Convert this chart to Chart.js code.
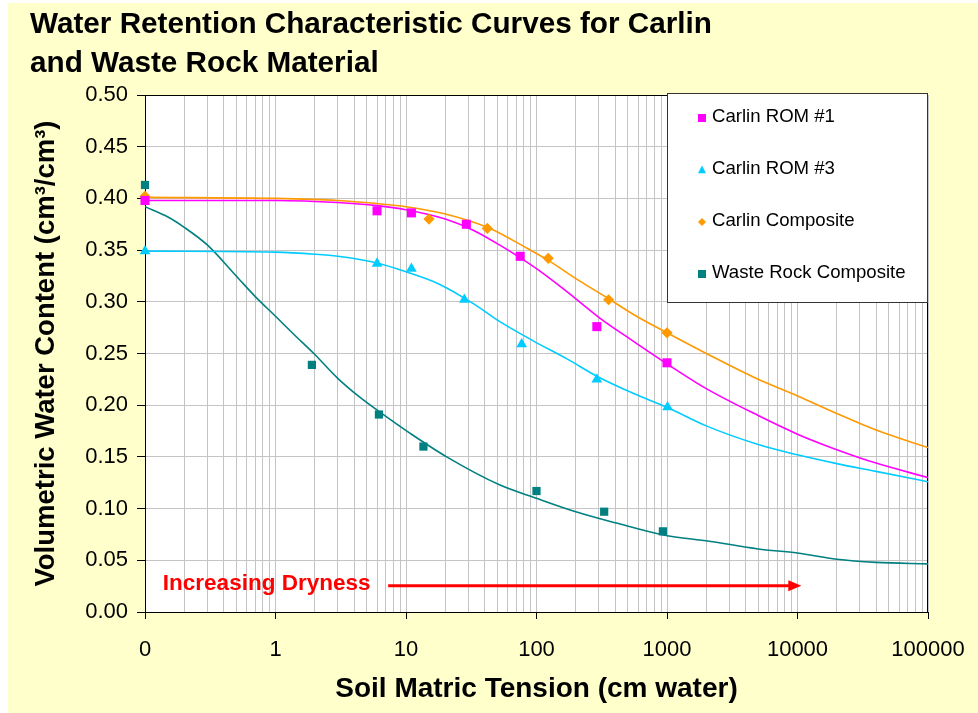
<!DOCTYPE html>
<html>
<head>
<meta charset="utf-8">
<script src="https://cdn.jsdelivr.net/npm/chart.js@4.4.1/dist/chart.umd.min.js"></script>
<style>
  html, body { margin: 0; padding: 0; background: #fff; }
  #wrap { width: 978px; height: 713px; }
</style>
</head>
<body>
<div id="wrap"><canvas id="c" width="978" height="713"></canvas></div>
<script>
/* ── measured points ─────────────────────────────────────── */
const rom1X  = [0.1, 6, 11, 29, 75, 290, 1000];
const rom1Y  = [0.398, 0.388, 0.386, 0.375, 0.344, 0.276, 0.241];
const rom3X  = [0.1, 6, 11, 28, 77, 290, 1010];
const rom3Y  = [0.349, 0.337, 0.332, 0.302, 0.259, 0.225, 0.198];
const compX  = [0.1, 15, 42, 123, 357, 1000];
const compY  = [0.402, 0.380, 0.371, 0.342, 0.302, 0.270];
const wasteX = [0.1, 1.9, 6.2, 13.6, 100, 330, 930];
const wasteY = [0.413, 0.239, 0.191, 0.160, 0.117, 0.097, 0.078];

/* ── fitted curves ───────────────────────────────────────── */
const rom1FitX  = [0.1, 1, 3, 6, 10, 20, 33, 52, 100, 170, 300, 550, 1000, 2000, 5000, 10000, 20000, 40000, 100000];
const rom1FitY  = [0.398, 0.398, 0.396, 0.393, 0.389, 0.380, 0.369, 0.355, 0.332, 0.310, 0.285, 0.262, 0.240, 0.216, 0.190, 0.172, 0.157, 0.144, 0.130];
const rom3FitX  = [0.1, 1, 2, 3, 6, 10, 18, 33, 52, 95, 170, 300, 550, 1000, 2000, 5000, 10000, 20000, 40000, 100000];
const rom3FitY  = [0.349, 0.348, 0.346, 0.344, 0.3375, 0.329, 0.317, 0.298, 0.281, 0.262, 0.245, 0.227, 0.2115, 0.198, 0.180, 0.162, 0.152, 0.1435, 0.136, 0.126];
const compFitX  = [0.1, 1, 3, 6, 10, 20, 42, 84, 123, 215, 357, 550, 1000, 2000, 5000, 10000, 20000, 40000, 100000];
const compFitY  = [0.401, 0.400, 0.398, 0.395, 0.392, 0.385, 0.372, 0.352, 0.340, 0.320, 0.303, 0.288, 0.270, 0.250, 0.225, 0.209, 0.192, 0.176, 0.159];
const wasteFitX = [0.1, 0.15, 0.2, 0.3, 0.5, 0.7, 1, 1.45, 2, 3, 4.5, 6.2, 10.7, 20.5, 52, 100, 200, 410, 940, 2100, 5000, 10000, 20000, 40000, 100000];
const wasteFitY = [0.392, 0.382, 0.372, 0.355, 0.325, 0.305, 0.286, 0.266, 0.249, 0.226, 0.207, 0.194, 0.173, 0.150, 0.123, 0.110, 0.097, 0.086, 0.0745, 0.0685, 0.061, 0.057, 0.051, 0.048, 0.0465];

/* ── axes ────────────────────────────────────────────────── */
const xTickValues = [0.1, 1, 10, 100, 1000, 10000, 100000];
const xTickLabels = ['0', '1', '10', '100', '1000', '10000', '100000'];
const seriesNames = ['Carlin ROM #1', 'Carlin ROM #3', 'Carlin Composite', 'Waste Rock Composite'];

const C = { rom1: '#FF00FF', rom3: '#00CCFF', comp: '#FF9900', waste: '#008080' };
const FONT = '"Liberation Sans", Arial, sans-serif';
Chart.defaults.font.family = FONT;
Chart.defaults.color = '#000';

const pts = (xs, ys) => xs.map((x, i) => ({ x, y: ys[i] }));

// all grid positions: decades + 2..9 within each decade
const xGrid = [];
xTickValues.forEach((d, i) => {
  xGrid.push({ value: d, major: true });
  if (i < xTickValues.length - 1) for (let m = 2; m <= 9; m++) xGrid.push({ value: m * d, major: false });
});

const marker = (style, color, r) => ({
  showLine: false, pointStyle: style, pointRadius: r, pointHoverRadius: r,
  backgroundColor: color, borderColor: color, borderWidth: 0, clip: false,
});
const curve = color => ({
  showLine: true, pointRadius: 0, borderColor: color, borderWidth: 1.6,
  cubicInterpolationMode: 'monotone', fill: false,
});

/* ── plugins ─────────────────────────────────────────────── */
const backdrop = {
  id: 'backdrop',
  beforeDraw(chart) {
    const { ctx, chartArea: a } = chart;
    ctx.save();
    ctx.fillStyle = '#fff';
    ctx.fillRect(0, 0, chart.width, chart.height);
    ctx.fillStyle = '#FFFFCC';
    ctx.fillRect(8, 3, chart.width - 8, chart.height - 3);
    ctx.fillStyle = '#fff';
    ctx.fillRect(a.left, a.top, a.right - a.left, a.bottom - a.top);
    ctx.restore();
  },
  beforeDatasetsDraw(chart) {
    const { ctx, chartArea: a } = chart;
    ctx.save();
    ctx.strokeStyle = '#000';
    ctx.lineWidth = 1;
    ctx.strokeRect(a.left + 0.5, a.top + 0.5, a.right - a.left - 1, a.bottom - a.top);
    ctx.restore();
  },
};

function drawMark(ctx, style, x, y, r, color) {
  ctx.fillStyle = color;
  ctx.beginPath();
  if (style === 'rect') ctx.rect(x - r, y - r, 2 * r, 2 * r);
  else if (style === 'triangle') { ctx.moveTo(x, y - r * 1.1); ctx.lineTo(x + r, y + r * 0.8); ctx.lineTo(x - r, y + r * 0.8); }
  else { ctx.moveTo(x, y - r); ctx.lineTo(x + r, y); ctx.lineTo(x, y + r); ctx.lineTo(x - r, y); }
  ctx.closePath();
  ctx.fill();
}

const boxLegend = {
  id: 'boxLegend',
  afterDatasetsDraw(chart) {
    const { ctx, chartArea: a } = chart;
    const left = a.right - 261, top = a.top - 2, w = 261, h = 209;
    ctx.save();
    ctx.fillStyle = '#fff';
    ctx.fillRect(left, top, w, h);
    ctx.strokeStyle = '#333';
    ctx.lineWidth = 1;
    ctx.strokeRect(left + 0.5, top + 0.5, w - 1, h);
    ctx.font = '18.6px ' + FONT;
    ctx.textBaseline = 'middle';
    ctx.textAlign = 'left';
    chart.data.datasets.slice(0, 4).forEach((ds, i) => {
      const y = top + 24 + i * 52;
      drawMark(ctx, ds.pointStyle, left + 35, y + 1, 4, ds.backgroundColor);
      ctx.fillStyle = '#000';
      ctx.fillText(ds.label, left + 45, y);
    });
    ctx.restore();
  },
};

const dryness = {
  id: 'dryness',
  afterDatasetsDraw(chart) {
    const { ctx, scales: { x, y } } = chart;
    ctx.save();
    ctx.fillStyle = '#FF0000';
    ctx.strokeStyle = '#FF0000';
    ctx.font = 'bold 22.5px ' + FONT;
    ctx.textBaseline = 'alphabetic';
    ctx.fillText('Increasing Dryness', x.getPixelForValue(0.137), y.getPixelForValue(0.021));
    const x0 = x.getPixelForValue(7.3), x1 = x.getPixelForValue(10700), yy = y.getPixelForValue(0.0255);
    ctx.lineWidth = 3;
    ctx.beginPath();
    ctx.moveTo(x0, yy);
    ctx.lineTo(x1 - 10, yy);
    ctx.stroke();
    ctx.beginPath();
    ctx.moveTo(x1, yy);
    ctx.lineTo(x1 - 13, yy - 5.5);
    ctx.lineTo(x1 - 13, yy + 5.5);
    ctx.closePath();
    ctx.fill();
    ctx.restore();
  },
};

/* ── chart ───────────────────────────────────────────────── */
new Chart(document.getElementById('c'), {
  type: 'scatter',
  data: {
    datasets: [
      { label: seriesNames[0], data: pts(rom1X, rom1Y), ...marker('rect', C.rom1, 6.4) },
      { label: seriesNames[1], data: pts(rom3X, rom3Y), ...marker('triangle', C.rom3, 6.2) },
      { label: seriesNames[2], data: pts(compX, compY), ...marker('rectRot', C.comp, 5.6) },
      { label: seriesNames[3], data: pts(wasteX, wasteY), ...marker('rect', C.waste, 5.8) },
      { label: 'fit1', data: pts(rom1FitX, rom1FitY), ...curve(C.rom1) },
      { label: 'fit3', data: pts(rom3FitX, rom3FitY), ...curve(C.rom3) },
      { label: 'fitC', data: pts(compFitX, compFitY), ...curve(C.comp) },
      { label: 'fitW', data: pts(wasteFitX, wasteFitY), ...curve(C.waste) },
    ],
  },
  options: {
    responsive: false,
    animation: false,
    layout: { padding: { left: 30, top: 5, right: 50, bottom: 5 } },
    plugins: {
      legend: { display: false },
      tooltip: { enabled: false },
      title: {
        display: true,
        text: ['Water Retention Characteristic Curves for Carlin', 'and Waste Rock Material'],
        align: 'start',
        color: '#000',
        font: { size: 29.7, weight: 'bold', lineHeight: 1.33 },
        padding: { top: 0, bottom: 11 },
      },
    },
    scales: {
      x: {
        type: 'logarithmic',
        min: 0.1,
        max: 100000,
        afterBuildTicks: s => { s.ticks = xGrid.map(t => ({ value: t.value, major: t.major })); },
        afterFit: s => { s.height = 96; s.paddingRight = 20; s.paddingLeft = 0; },
        ticks: {
          autoSkip: false, maxRotation: 0, color: '#000', font: { size: 22 }, padding: 18,
          callback: (v, i, t) => {
            if (!t[i].major) return '';
            const k = xTickValues.findIndex(d => Math.abs(d - v) / d < 1e-6);
            return k >= 0 ? xTickLabels[k] : '';
          },
        },
        grid: {
          color: '#C4C4C4', tickLength: 7,
          tickColor: c => (c.tick && c.tick.major ? '#000' : 'rgba(0,0,0,0)'),
        },
        border: { color: '#000' },
        title: {
          display: true, text: 'Soil Matric Tension (cm water)', color: '#000',
          font: { size: 28, weight: 'bold' }, padding: { top: 0, bottom: 2 },
        },
      },
      y: {
        min: 0,
        max: 0.5,
        afterFit: s => { s.width = 115; },
        ticks: { stepSize: 0.05, color: '#000', font: { size: 22 }, padding: 9, callback: v => v.toFixed(2) },
        grid: { color: '#C4C4C4', tickLength: 8, tickColor: '#000' },
        border: { color: '#000' },
        title: {
          display: true, text: 'Volumetric Water Content (cm³/cm³)', color: '#000',
          font: { size: 27.5, weight: 'bold' }, padding: 0,
        },
      },
    },
  },
  plugins: [backdrop, boxLegend, dryness],
});
</script>
</body>
</html>
